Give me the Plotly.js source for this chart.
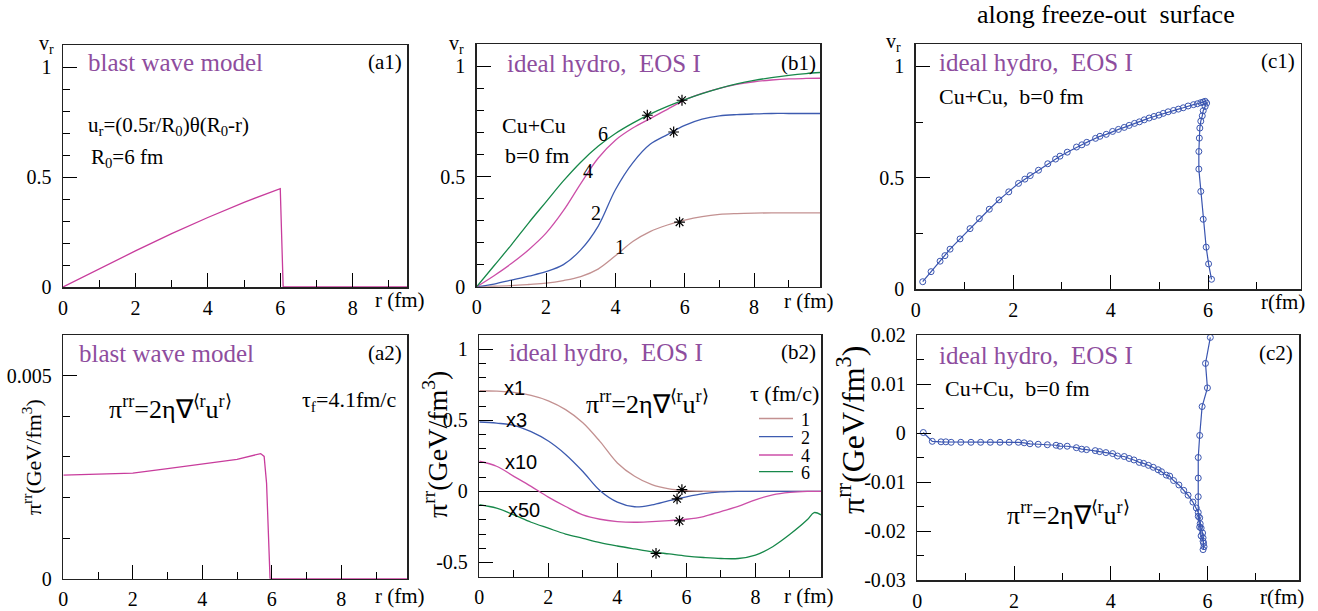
<!DOCTYPE html>
<html><head><meta charset="utf-8">
<script src="https://cdn.plot.ly/plotly-3.0.1.min.js"></script>
<style>html,body{margin:0;padding:0;background:#fff}#chart{width:1318px;height:611px}</style>
</head><body><div id="chart"></div>
<script>
// ---------- data ----------
// (a1) blast wave velocity
const a1R = [0,1,2,3,4,5,6,6.08,9.5];
const a1V = [0,0.083,0.164,0.243,0.316,0.385,0.447,0,0];
// (a2) blast wave pi^rr
const a2R = [0,1,2,3,4,5,5.68,5.78,5.85,5.95,9.9];
const a2Pi = [0.00255,0.00257,0.0026,0.00271,0.00282,0.00294,0.00308,0.00301,0.00235,0,0];
// (b1)/(b2) ideal hydro profiles
const bR = [0,0.5,1,1.5,2,2.5,3,3.5,4,4.5,5,5.5,6,6.5,7,7.5,8,8.5,9,9.5,9.9];
const v_tau1 = [0,0.002,0.005,0.01,0.016,0.028,0.046,0.08,0.14,0.205,0.25,0.28,0.302,0.318,0.328,0.332,0.334,0.335,0.335,0.335,0.335];
const v_tau2 = [0,0.012,0.03,0.048,0.068,0.1,0.167,0.274,0.44,0.562,0.646,0.69,0.732,0.76,0.775,0.781,0.784,0.786,0.786,0.786,0.786];
const v_tau4 = [0,0.05,0.105,0.168,0.243,0.345,0.468,0.583,0.665,0.72,0.763,0.805,0.847,0.877,0.9,0.918,0.93,0.938,0.943,0.945,0.946];
const v_tau6 = [0,0.095,0.19,0.29,0.385,0.48,0.565,0.637,0.695,0.742,0.783,0.818,0.849,0.876,0.9,0.92,0.936,0.949,0.959,0.967,0.972];
const starV_R = [4.92,5.92,5.68,5.85];
const starV_V = [0.778,0.846,0.702,0.293];
const pi_tau1 = [0.708,0.705,0.696,0.675,0.637,0.575,0.483,0.35,0.2,0.106,0.047,0.017,0.005,0.001,0,0,0,0,0,0,0];
const pi_tau2 = [0.488,0.48,0.465,0.42,0.354,0.26,0.14,0.005,-0.075,-0.108,-0.095,-0.065,-0.038,-0.016,-0.004,0,0,0,0,0,0];
const pi_tau4 = [0.212,0.177,0.106,0.035,-0.04,-0.106,-0.165,-0.196,-0.212,-0.217,-0.212,-0.205,-0.196,-0.177,-0.142,-0.106,-0.059,-0.024,-0.007,0,0];
const gR = [0,0.5,1,1.5,2,2.5,3,3.5,4,4.5,5,5.5,6,6.5,7,7.5,8,8.5,9,9.5,9.7,9.9];
const pi_tau6 = [-0.094,-0.118,-0.165,-0.217,-0.259,-0.3,-0.33,-0.36,-0.384,-0.405,-0.425,-0.44,-0.455,-0.465,-0.472,-0.472,-0.448,-0.389,-0.302,-0.2,-0.149,-0.165];
const starP_R = [5.87,5.73,5.8,5.12];
const starP_P = [0.012,-0.052,-0.208,-0.436];
const tauLabels = ['1','2','4','6'];
const scaleLabels = ['x1','x3','x10','x50'];
// (c1)/(c2) along freeze-out surface
const c1R = [0.144,0.315,0.5,0.6,0.705,0.91,1.115,1.306,1.51,1.71,1.91,2.11,2.24,2.35,2.52,2.71,2.87,2.96,3.11,3.3,3.41,3.51,3.69,3.78,3.91,4.04,4.16,4.28,4.38,4.49,4.59,4.69,4.79,4.89,4.99,5.08,5.18,5.29,5.39,5.49,5.59,5.7,5.78,5.85,5.9,5.94,5.97,5.94,5.9,5.88,5.85,5.83,5.82,5.81,5.81,5.85,5.9,5.96,6.01,6.07];
const c1V = [0.034,0.079,0.126,0.151,0.18,0.226,0.272,0.317,0.359,0.401,0.437,0.475,0.494,0.51,0.534,0.563,0.584,0.597,0.615,0.638,0.648,0.659,0.677,0.686,0.695,0.708,0.717,0.726,0.735,0.744,0.751,0.76,0.768,0.775,0.781,0.789,0.796,0.802,0.808,0.814,0.822,0.828,0.832,0.837,0.84,0.843,0.835,0.82,0.801,0.778,0.754,0.723,0.678,0.618,0.539,0.439,0.314,0.189,0.114,0.045];
const c2R = [0.124,0.31,0.49,0.59,0.7,0.9,1.11,1.31,1.51,1.71,1.9,2.09,2.21,2.33,2.5,2.69,2.87,2.95,3.1,3.29,3.4,3.5,3.68,3.77,3.9,4.04,4.14,4.28,4.38,4.48,4.59,4.68,4.78,4.88,4.98,5.05,5.15,5.22,5.3,5.41,5.51,5.6,5.7,5.77,5.81,5.84,5.85,5.87,5.9,5.91,5.92,5.91,5.93,5.91,5.87,5.84,5.81,5.81,5.81,5.81,5.84,5.89,6.0,5.96,6.06];
const c2Pi = [0.0001,-0.0017,-0.0018,-0.0018,-0.0019,-0.0019,-0.0019,-0.0019,-0.0019,-0.0019,-0.0019,-0.0019,-0.002,-0.0022,-0.0023,-0.0024,-0.0025,-0.0027,-0.0027,-0.003,-0.0033,-0.0034,-0.0036,-0.0038,-0.004,-0.0042,-0.0047,-0.0048,-0.0052,-0.0055,-0.006,-0.0062,-0.0066,-0.007,-0.0075,-0.0079,-0.0086,-0.0088,-0.0097,-0.0106,-0.0117,-0.0127,-0.0141,-0.0153,-0.0162,-0.0173,-0.0185,-0.0194,-0.0204,-0.0214,-0.0225,-0.0238,-0.0232,-0.0221,-0.021,-0.0192,-0.017,-0.013,-0.0092,-0.005,-0.0005,0.0054,0.0092,0.0142,0.0195];
// tick labels
const xTicks10 = [0,2,4,6,8], xTicks10Text = ['0','2','4','6','8'];
const xTicks8 = [0,2,4,6], xTicks8Text = ['0','2','4','6'];
const vTicks = [0,0.5,1], vTicksText = ['0','0.5','1'];
const a2Ticks = [0,0.005], a2TicksText = ['0','0.005'];
const b2Ticks = [-0.5,0,0.5,1], b2TicksText = ['-0.5','0','0.5','1'];
const c2Ticks = [-0.03,-0.02,-0.01,0,0.01,0.02], c2TicksText = ['-0.03','-0.02','-0.01','0','0.01','0.02'];

// ---------- style ----------
const W = 1318, H = 611;
const SERIF = '"Liberation Serif", serif';
const SANS = '"Liberation Sans", sans-serif';
const PURPLE = '#8e4d9e';
const C1 = '#c39191', C2 = '#3d5bb0', C4 = '#cc4fa8', C6 = '#17884a';
const PINK = '#c83c9c', CBLUE = '#3a55b0';
const px = v => v / W, py = v => 1 - v / H;

function axis(x0, x1, range, tv, tt, minor, horiz) {
  return {
    domain: horiz ? [px(x0), px(x1)] : [py(x1), py(x0)],
    range: range, tickmode: 'array', tickvals: tv, ticktext: tt,
    ticks: 'inside', ticklen: 14, tickwidth: 1, tickcolor: '#000',
    minor: {tickmode: 'linear', tick0: 0, dtick: minor, ticks: 'inside', ticklen: 7, tickwidth: 1, tickcolor: '#000', showgrid: false},
    showline: true, mirror: true, linecolor: '#222', linewidth: 1.5,
    showgrid: false, zeroline: false,
    tickfont: {family: SERIF, size: 20, color: '#000'},
    ticklabelstandoff: horiz ? 2 : 6, fixedrange: true
  };
}

const layout = {
  width: W, height: H, margin: {l: 0, r: 0, t: 0, b: 0},
  font: {family: SERIF},
  paper_bgcolor: '#fff', plot_bgcolor: '#fff', showlegend: false,
  xaxis:  axis(63, 407, [0, 9.5], xTicks10, xTicks10Text, 1, true),
  yaxis:  axis(45, 287, [0, 1.1], vTicks, vTicksText, 0.1, false),
  xaxis2: axis(476.7, 820, [0, 9.9], xTicks10, xTicks10Text, 1, true),
  yaxis2: axis(44.3, 286.7, [0, 1.1], vTicks, vTicksText, 0.1, false),
  xaxis3: axis(915.7, 1300.7, [0, 7.9], xTicks8, xTicks8Text, 1, true),
  yaxis3: axis(44, 289.3, [0, 1.1], vTicks, vTicksText, 0.25, false),
  xaxis4: axis(63.3, 407.3, [0, 9.9], xTicks10, xTicks10Text, 1, true),
  yaxis4: axis(335, 578.7, [0, 0.006], a2Ticks, a2TicksText, 0.001, false),
  xaxis5: axis(479.3, 821, [0, 9.9], xTicks10, xTicks10Text, 1, true),
  yaxis5: axis(335, 576.7, [-0.6, 1.1], b2Ticks, b2TicksText, 0.1, false),
  xaxis6: axis(917.3, 1299.3, [0, 7.9], xTicks8, xTicks8Text, 1, true),
  yaxis6: axis(335, 580, [-0.03, 0.02], c2Ticks, c2TicksText, 0.005, false),
  annotations: [], shapes: []
};
for (let i = 1; i <= 6; i++) {
  const s = i === 1 ? '' : String(i);
  layout['xaxis' + s].anchor = 'y' + s;
  layout['yaxis' + s].anchor = 'x' + s;
}
layout.yaxis5.zeroline = true; layout.yaxis5.zerolinecolor = '#000'; layout.yaxis5.zerolinewidth = 1;

function txt(text, x, y, opt) {
  opt = opt || {};
  layout.annotations.push({
    text: text, x: px(x), y: py(y), xref: 'paper', yref: 'paper', showarrow: false,
    xanchor: opt.xa || 'left', yanchor: 'middle', textangle: opt.angle || 0,
    font: {family: opt.family || SERIF, size: opt.size || 20, color: opt.color || '#000'}
  });
}
const NB = '\u00a0';
const FORMULA = 'π<sup>rr</sup>=2η∇<sup>⟨r</sup>u<sup>r⟩</sup>';
const PITITLE = 'π<sup>rr</sup>(GeV/fm<sup>3</sup>)';
// top title
txt('along freeze-out' + NB + NB + 'surface', 1106, 15, {xa: 'center', size: 26});
// a1
txt('v<sub>r</sub>', 46, 44, {xa: 'center', size: 20});
txt('blast wave model', 86, 62, {size: 25, color: PURPLE});
txt('(a1)', 404, 62, {xa: 'right', size: 21});
txt('u<sub>r</sub>=(0.5r/R<sub>0</sub>)θ(R<sub>0</sub>-r)', 86, 126, {size: 21});
txt('R<sub>0</sub>=6 fm', 89, 158, {size: 21});
txt('r (fm)', 373, 300, {size: 21});
// a2
txt('blast wave model', 77, 353, {size: 25, color: PURPLE});
txt('(a2)', 404, 353, {xa: 'right', size: 21});
txt(FORMULA, 170, 407, {xa: 'center', size: 26});
txt('τ<sub>f</sub>=4.1fm/c', 300, 401, {size: 22});
txt(PITITLE, 32, 457, {xa: 'center', angle: -90, size: 22});
txt('r (fm)', 373, 596, {size: 21});
// b1
txt('v<sub>r</sub>', 456, 44, {xa: 'center', size: 20});
txt('ideal hydro,' + NB + NB + 'EOS I', 505, 63, {size: 25, color: PURPLE});
txt('(b1)', 818, 63, {xa: 'right', size: 21});
txt('Cu+Cu', 500, 125, {size: 22});
txt('b=0 fm', 503, 155, {size: 22});
const curveLblPos = [[620, 247], [596, 213], [588, 171], [603, 134]];
tauLabels.forEach((t, i) => txt(t, curveLblPos[i][0], curveLblPos[i][1], {xa: 'center', size: 20}));
txt('r (fm)', 782, 301, {size: 21});
// b2
txt('ideal hydro,' + NB + NB + 'EOS I', 507, 352, {size: 25, color: PURPLE});
txt('(b2)', 818, 352, {xa: 'right', size: 21});
txt(FORMULA, 647, 403, {xa: 'center', size: 26});
txt('τ (fm/c)', 784, 393, {xa: 'center', size: 22});
const legY = [418.5, 436.7, 455, 471.7], legC = [C1, C2, C4, C6];
tauLabels.forEach((t, i) => {
  txt(t, 799, legY[i] + 1, {size: 18});
  layout.shapes.push({type: 'line', xref: 'paper', yref: 'paper', x0: px(759), x1: px(793), y0: py(legY[i]), y1: py(legY[i]), line: {color: legC[i], width: 1.3}});
});
const scalePos = [[514, 388], [516, 420], [521, 462], [524, 510]];
scaleLabels.forEach((t, i) => txt(t, scalePos[i][0], scalePos[i][1], {xa: 'center', size: 20, family: SANS}));
txt(PITITLE, 436, 445, {xa: 'center', angle: -90, size: 28});
txt('r (fm)', 782, 596, {size: 21});
// c1
txt('v<sub>r</sub>', 893, 42, {xa: 'center', size: 20});
txt('ideal hydro,' + NB + NB + 'EOS I', 937, 62, {size: 25, color: PURPLE});
txt('(c1)', 1297, 61, {xa: 'right', size: 21});
txt('Cu+Cu,' + NB + NB + 'b=0 fm', 937, 96, {size: 22});
txt('r(fm)', 1259, 302, {size: 21});
// c2
txt('ideal hydro,' + NB + NB + 'EOS I', 937, 355, {size: 25, color: PURPLE});
txt('(c2)', 1295, 353, {xa: 'right', size: 21});
txt('Cu+Cu,' + NB + NB + 'b=0 fm', 943, 388, {size: 22});
txt(FORMULA, 1068, 513, {xa: 'center', size: 26});
txt(PITITLE, 851, 430, {xa: 'center', angle: -90, size: 32});
txt('r(fm)', 1258, 597, {size: 21});

// ---------- traces ----------
const line = (x, y, color, xa, ya) => ({x: x, y: y, xaxis: xa, yaxis: ya, type: 'scatter', mode: 'lines', line: {color: color, width: 1.3}, hoverinfo: 'skip'});
const stars = (x, y, xa, ya) => ({x: x, y: y, xaxis: xa, yaxis: ya, type: 'scatter', mode: 'markers', marker: {symbol: 'asterisk-open', size: 9, color: '#000', line: {color: '#000', width: 1.2}}, hoverinfo: 'skip'});
const circles = (x, y, xa, ya) => ({x: x, y: y, xaxis: xa, yaxis: ya, type: 'scatter', mode: 'lines+markers', line: {color: CBLUE, width: 1.2}, marker: {symbol: 'circle-open', size: 6, color: CBLUE, line: {color: CBLUE, width: 1}}, hoverinfo: 'skip'});

const data = [
  line(a1R, a1V, PINK, 'x', 'y'),
  line(bR, v_tau1, C1, 'x2', 'y2'),
  line(bR, v_tau2, C2, 'x2', 'y2'),
  line(bR, v_tau4, C4, 'x2', 'y2'),
  line(bR, v_tau6, C6, 'x2', 'y2'),
  stars(starV_R, starV_V, 'x2', 'y2'),
  circles(c1R, c1V, 'x3', 'y3'),
  line(a2R, a2Pi, PINK, 'x4', 'y4'),
  line(bR, pi_tau1, C1, 'x5', 'y5'),
  line(bR, pi_tau2, C2, 'x5', 'y5'),
  line(bR, pi_tau4, C4, 'x5', 'y5'),
  line(gR, pi_tau6, C6, 'x5', 'y5'),
  stars(starP_R, starP_P, 'x5', 'y5'),
  circles(c2R, c2Pi, 'x6', 'y6')
];
data.forEach(d => { if (d.mode === 'lines') d.line.shape = 'spline'; });
data[0].line.shape = 'linear'; data[7].line.shape = 'linear';

Plotly.newPlot('chart', data, layout, {staticPlot: true, displayModeBar: false});
</script>
</body></html>
